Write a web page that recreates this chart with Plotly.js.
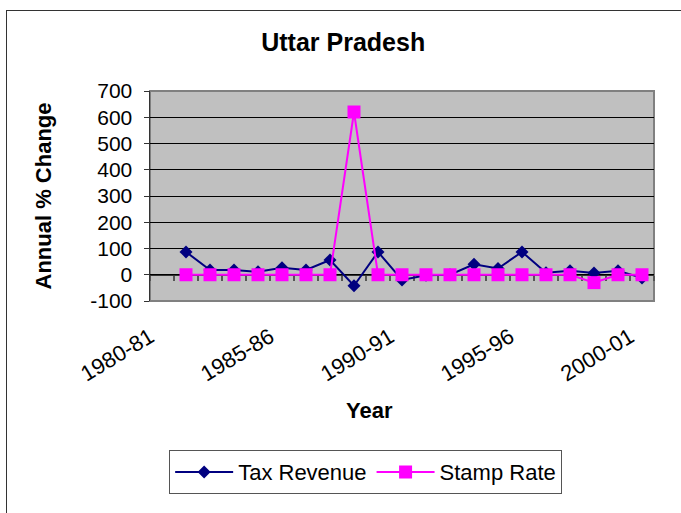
<!DOCTYPE html>
<html>
<head>
<meta charset="utf-8">
<script src="https://cdn.plot.ly/plotly-3.0.1.min.js"></script>
<style>
html, body { margin: 0; padding: 0; background: #fff; overflow: hidden; }
#chart { width: 681px; height: 513px; position: absolute; left: 0; top: 0; }
#frame { position: absolute; left: 6px; top: 10px; width: 800px; height: 700px;
  border-left: 1.5px solid #333; border-top: 1.5px solid #333; pointer-events: none; }
</style>
</head>
<body>
<div id="chart"></div>
<div id="frame"></div>
<script>
// ---- data ----
const years = ['1980-81','1981-82','1982-83','1983-84','1984-85','1985-86','1986-87',
  '1987-88','1988-89','1989-90','1990-91','1991-92','1992-93','1993-94','1994-95',
  '1995-96','1996-97','1997-98','1998-99','1999-00','2000-01'];
const taxRevenue = [null, 87, 18, 18, 11, 27, 18, 56, -42, 87, -20, -2, 0, 40, 24, 87, 8, 15, 7, 15, -12];
const stampRate  = [null, 0, 0, 0, 0, 0, 0, 0, 620, 0, 0, 0, 0, 0, 0, 0, 0, 0, -30, 0, 0];
const labelYears = ['1980-81','1985-86','1990-91','1995-96','2000-01'];
const yTicks = [-100, 0, 100, 200, 300, 400, 500, 600, 700];

const xIdx = years.map((_, i) => i);
const labelIdx = labelYears.map(y => years.indexOf(y));
const FONT = 'Liberation Sans, Arial, sans-serif';

const traces = [
  { x: xIdx, y: taxRevenue, name: 'Tax Revenue', type: 'scatter', mode: 'lines+markers',
    xaxis: 'x', yaxis: 'y',
    line: { color: '#000080', width: 2 },
    marker: { symbol: 'diamond', size: 10, color: '#000080' } },
  { x: xIdx, y: stampRate, name: 'Stamp Rate', type: 'scatter', mode: 'lines+markers',
    xaxis: 'x2', yaxis: 'y',
    line: { color: '#FF00FF', width: 2 },
    marker: { symbol: 'square', size: 13, color: '#FF00FF' } }
];

const layout = {
  width: 681, height: 513,
  margin: { l: 150, r: 27, t: 91, b: 212 },
  paper_bgcolor: '#ffffff',
  plot_bgcolor: '#C0C0C0',
  font: { family: FONT, color: '#000', size: 21 },
  title: { text: '<b>Uttar Pradesh</b>', font: { family: FONT, size: 25, color: '#000' },
    x: 0.504, xref: 'container', xanchor: 'center', y: 0.918, yref: 'container', yanchor: 'middle' },
  xaxis: {
    range: [-0.5, 20.5], showgrid: false, zeroline: false, showline: false,
    tickmode: 'array', tickvals: labelIdx, ticktext: labelYears,
    ticks: '', tickangle: -31, tickfont: { family: FONT, size: 22, color: '#000' },
    ticklabelstandoff: 18, ticklabelshift: -12
  },
  xaxis2: {
    overlaying: 'x', anchor: 'free', position: 0.125, side: 'bottom',
    range: [-0.5, 20.5], showgrid: false, zeroline: false,
    showline: true, linecolor: '#333', linewidth: 1.5,
    ticks: 'outside', ticklen: 5, tickwidth: 1.5, tickcolor: '#555',
    tickmode: 'linear', tick0: -0.5, dtick: 1, showticklabels: false,
    layer: 'below traces'
  },
  yaxis: {
    range: [-100, 700], showgrid: true, gridcolor: '#000', gridwidth: 1, zeroline: false,
    showline: true, linecolor: '#333', linewidth: 1.5,
    ticks: 'outside', ticklen: 5, tickcolor: '#333',
    tickmode: 'array', tickvals: yTicks, ticktext: yTicks.map(v => String(v)),
    tickfont: { family: FONT, size: 21, color: '#000' }, ticklabelstandoff: 7,
    title: { text: '<b>Annual % Change</b>', font: { family: FONT, size: 22, color: '#000' }, standoff: 32 }
  },
  shapes: [
    { type: 'rect', xref: 'paper', yref: 'paper', x0: 0, x1: 1, y0: 0, y1: 1,
      line: { color: '#808080', width: 2 }, layer: 'below' }
  ],
  annotations: [
    { text: '<b>Year</b>', xref: 'paper', yref: 'paper', x: 0.435, y: -0.52,
      xanchor: 'center', yanchor: 'middle', showarrow: false,
      font: { family: FONT, size: 22, color: '#000' } }
  ],
  showlegend: true,
  legend: {
    orientation: 'h', x: 0.038, xanchor: 'left', y: -0.71, yanchor: 'top',
    bgcolor: '#fff', bordercolor: '#555', borderwidth: 1,
    font: { family: FONT, size: 22, color: '#000' }, itemwidth: 58
  }
};

Plotly.newPlot('chart', traces, layout, { displayModeBar: false, staticPlot: true });
</script>
</body>
</html>
